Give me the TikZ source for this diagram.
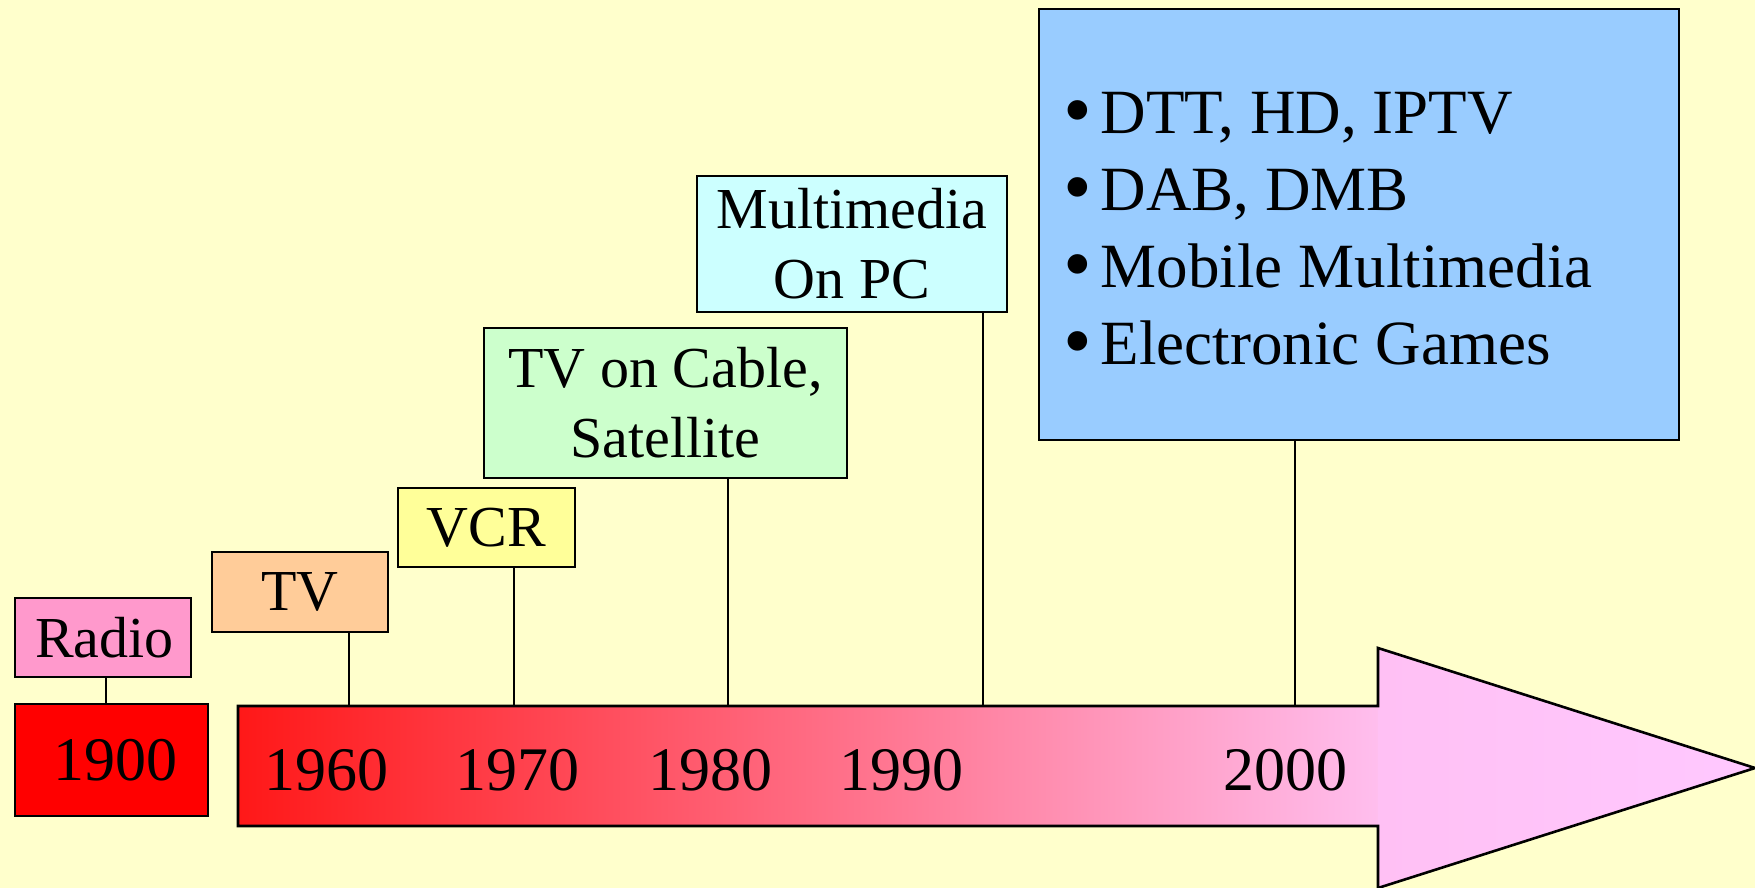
\documentclass[tikz,border=0pt]{standalone}
\usepackage{fontspec}
\setmainfont{Liberation Serif}
\definecolor{paper}{HTML}{FFFFCC}
\definecolor{radiocol}{HTML}{FF99CC}
\definecolor{tvcol}{HTML}{FFCC99}
\definecolor{vcrcol}{HTML}{FFFF99}
\definecolor{cablecol}{HTML}{CCFFCC}
\definecolor{pccol}{HTML}{CCFFFF}
\definecolor{nowcol}{HTML}{99CCFF}
\definecolor{yearred}{HTML}{FF0000}
\definecolor{bodyleft}{HTML}{FF1818}
\definecolor{bodymid}{HTML}{FF7590}
\definecolor{bodyright}{HTML}{FFBEEE}
\definecolor{headleft}{HTML}{FFC0F4}
\definecolor{headright}{HTML}{FFC8FF}
\newcommand{\itemdot}{\raisebox{-4pt}{\scalebox{1.3}{\textbullet}}\hspace{9pt}}
\begin{document}
\begin{tikzpicture}[x=1pt,y=-1pt,
  box/.style={draw=black, line width=2.6pt, inner sep=0pt, align=center,
    font=\fontsize{58}{70}\selectfont},
  year/.style={inner sep=0pt, font=\fontsize{62}{70}\selectfont},
  link/.style={draw=black, line width=2pt}]
% page
\fill[paper] (0,0) rectangle (1755,888);
\useasboundingbox (0,0) rectangle (1755,888);

% time arrow: shaded shaft, shaded head, then one outline
\shade[left color=bodyleft, middle color=bodymid, right color=bodyright]
  (238,706) rectangle (1379,826);
\shade[left color=headleft, right color=headright]
  (1378,648) -- (1755,768) -- (1378,888) -- cycle;
\draw[line width=2.6pt]
  (238,706) -- (1378,706) -- (1378,648) -- (1755,768) -- (1378,888)
  -- (1378,826) -- (238,826) -- cycle;
\coordinate (t60) at (349,706);
\coordinate (t70) at (514,706);
\coordinate (t80) at (728,706);
\coordinate (t90) at (983,706);
\coordinate (t00) at (1295,706);

% year labels
\node[box, fill=yearred, minimum width=193pt, minimum height=112pt,
  font=\fontsize{62}{70}\selectfont] (y1900) at (111.5,760) {\hspace{8pt}1900};
\node[year] (y1960) at (326,770) {1960};
\node[year] (y1970) at (517,770) {1970};
\node[year] (y1980) at (710,770) {1980};
\node[year] (y1990) at (901,770) {1990};
\node[year] (y2000) at (1285,770) {2000};

% media boxes
\node[box, fill=radiocol, minimum width=176pt, minimum height=79pt] (radio) at (103,637.5) {\hspace{3pt}Radio};
\node[box, fill=tvcol, minimum width=176pt, minimum height=80pt] (tv) at (300,592) {TV};
\node[box, fill=vcrcol, minimum width=177pt, minimum height=79pt] (vcr) at (486.5,527.5) {VCR};
\node[box, fill=cablecol, minimum width=363pt, minimum height=150pt] (cable) at (665.5,403) {TV on Cable,\\Satellite};
\node[box, fill=pccol, minimum width=310pt, minimum height=136pt] (pc) at (852,244) {Multimedia\\On PC};
\node[box, fill=nowcol, minimum width=640pt, minimum height=431pt] (now) at (1359,224.5) {};
\node[anchor=west, inner sep=0pt, align=left, font=\fontsize{63}{77}\selectfont]
  (nowlist) at (1063,230)
  {\itemdot DTT, HD, IPTV\\
   \itemdot DAB, DMB\\
   \itemdot Mobile Multimedia\\
   \itemdot Electronic Games};

% connectors
\draw[link] (radio.south -| 106,0) -- (y1900.north -| 106,0);
\draw[link] (tv.south -| t60) -- (t60);
\draw[link] (vcr.south -| t70) -- (t70);
\draw[link] (cable.south -| t80) -- (t80);
\draw[link] (pc.south -| t90) -- (t90);
\draw[link] (now.south -| t00) -- (t00);
\end{tikzpicture}
\end{document}
